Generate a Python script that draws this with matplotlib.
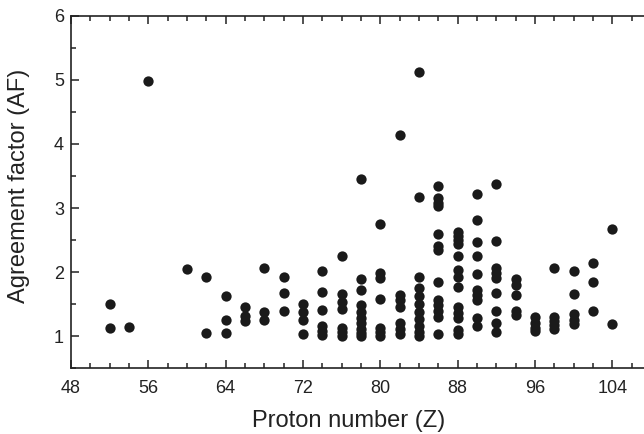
import numpy as np
import matplotlib.pyplot as plt
from matplotlib.ticker import MultipleLocator

plt.rcParams['font.family'] = ['Liberation Sans', 'DejaVu Sans']

# agreement factor values grouped by proton number
af = {
    52: [1.51, 1.13],
    54: [1.15],
    56: [4.98],
    60: [2.05],
    62: [1.93, 1.05],
    64: [1.63, 1.25, 1.05],
    66: [1.46, 1.31, 1.23],
    68: [2.07, 1.38, 1.26],
    70: [1.92, 1.68, 1.40],
    72: [1.50, 1.38, 1.26, 1.03],
    74: [2.01, 1.69, 1.41, 1.16, 1.08, 1.02],
    76: [2.25, 1.66, 1.54, 1.43, 1.13, 1.06, 1.01],
    78: [3.45, 1.90, 1.72, 1.48, 1.38, 1.29, 1.20, 1.12, 1.05, 1.00],
    80: [2.75, 1.99, 1.91, 1.58, 1.13, 1.06, 1.00],
    82: [4.14, 1.65, 1.57, 1.46, 1.20, 1.11, 1.03],
    84: [5.12, 3.17, 1.93, 1.76, 1.62, 1.50, 1.38, 1.27, 1.16, 1.06, 1.01],
    86: [3.35, 3.15, 3.08, 3.03, 2.60, 2.40, 2.35, 1.84, 1.57, 1.49, 1.40, 1.30, 1.03],
    88: [2.63, 2.56, 2.50, 2.44, 2.25, 2.04, 1.93, 1.77, 1.46, 1.37, 1.28, 1.10, 1.03],
    90: [3.22, 2.81, 2.47, 2.25, 1.97, 1.72, 1.64, 1.57, 1.28, 1.16],
    92: [3.38, 2.48, 2.06, 1.98, 1.91, 1.67, 1.40, 1.20, 1.06],
    94: [1.90, 1.80, 1.64, 1.40, 1.33],
    96: [1.30, 1.20, 1.13, 1.08],
    98: [2.06, 1.30, 1.24, 1.17, 1.11],
    100: [2.02, 1.66, 1.34, 1.26, 1.19],
    102: [2.14, 1.85, 1.40],
    104: [2.67, 1.19],
}

z = np.concatenate([[k] * len(v) for k, v in af.items()])
vals = np.concatenate([v for v in af.values()])

fig = plt.figure(figsize=(6.44, 4.34), dpi=100)
ax = fig.add_axes([0.1102, 0.1514, 0.9006, 0.8124])
ax.scatter(z, vals, s=55, color='#1a1a1a', linewidths=0, zorder=3)

ax.set_xlim(48, 108)
ax.set_ylim(0.5, 6)
ax.xaxis.set_major_locator(MultipleLocator(8))
ax.xaxis.set_minor_locator(MultipleLocator(2))
ax.yaxis.set_minor_locator(MultipleLocator(0.5))
ax.set_yticks([1, 2, 3, 4, 5, 6])
ax.tick_params(which='both', direction='in', top=True, right=False,
               labelsize=13, width=1.1, color='#222222', labelcolor='#222222')
ax.tick_params(which='major', length=6)
ax.tick_params(which='minor', length=3.5)
ax.tick_params(axis='x', which='major', pad=8.5)
ax.tick_params(axis='y', which='major', pad=5)
for s in ax.spines.values():
    s.set_linewidth(1.2)
    s.set_color('#222222')

ax.set_xlabel('Proton number (Z)', fontsize=17, color='#222222', labelpad=9)
ax.set_ylabel('Agreement factor (AF)', fontsize=17, color='#222222', labelpad=17)
ax.xaxis.label.set_x(0.478)
ax.yaxis.label.set_y(0.518)

fig.savefig('out.png', dpi=100)
